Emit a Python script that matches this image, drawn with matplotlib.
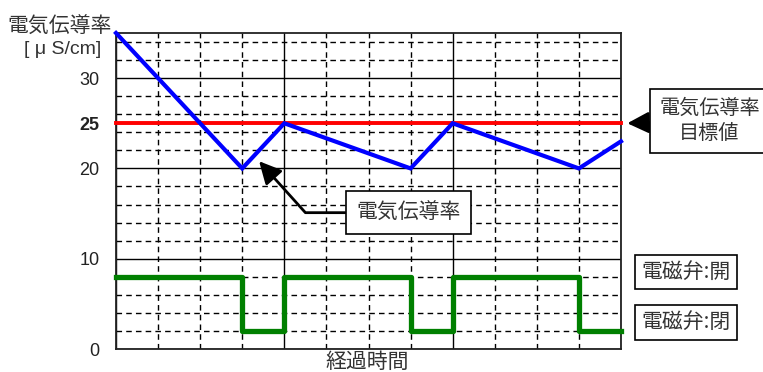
import matplotlib.pyplot as plt

plt.rcParams['font.family'] = ['Noto Sans CJK JP', 'DejaVu Sans']

# data
elapsed = [0, 3, 4, 7, 8, 11, 12]
conductivity = [35, 20, 25, 20, 25, 20, 23]
target_value = 25
valve_x = [0, 3, 4, 7, 8, 11, 12]
valve_level = [8, 2, 8, 2, 8, 2, 2]
y_ticks = [0, 10, 20, 25, 30]
y_minor = [2, 4, 6, 8, 12, 14, 16, 18, 22, 24, 26, 28, 32, 34]
x_major = [0, 4, 8, 12]
x_minor = [1, 2, 3, 5, 6, 7, 9, 10, 11]

fig = plt.figure(figsize=(7.63, 3.72), dpi=100)
ax = fig.add_axes([116 / 763, 23 / 372, 505 / 763, 316 / 372])

ax.set_xlim(0, 12)
ax.set_ylim(0, 35)

ax.set_xticks(x_major)
ax.set_xticks(x_minor, minor=True)
ax.set_yticks(y_ticks)
ax.set_yticks(y_minor, minor=True)
ax.set_xticklabels([])
ax.set_yticklabels([str(v) for v in y_ticks], family='Liberation Sans',
                   fontsize=13, color='#222222')
ax.get_yticklabels()[3].set_fontweight('bold')
ax.tick_params(which='both', length=0)
ax.tick_params(axis='y', pad=12)

ax.grid(which='major', color='black', lw=1.0, ls='-')
ax.grid(which='minor', color='black', lw=1.0, ls=(0, (4, 3)))
ax.set_axisbelow(True)
for s in ax.spines.values():
    s.set_color('#222222')
    s.set_linewidth(1.3)

ax.plot([0, 12], [target_value, target_value], color='#ff0000', lw=2.8, zorder=3,
        clip_on=False)
ax.plot(elapsed, conductivity, color='#0000ff', lw=3.0, zorder=4, clip_on=False,
        solid_joinstyle='miter')
ax.plot(valve_x, valve_level, color='#008000', lw=3.8, drawstyle='steps-post',
        zorder=4, clip_on=False)

txt = dict(fontsize=15, color='#333333', ha='center', va='center')
head = '-|>,head_length=0.9,head_width=0.45'

ax.annotate('電気伝導率', xy=(3.4, 20.8), xytext=(6.95, 15.1),
            bbox=dict(boxstyle='square,pad=0.5', fc='white', ec='black', lw=1.2),
            **txt,
            arrowprops=dict(arrowstyle=head, color='black', lw=2,
                            connectionstyle='angle,angleA=0,angleB=-48,rad=0',
                            shrinkA=0, shrinkB=0))

ax.annotate('電気伝導率\n目標値', xy=(12.15, 25), xytext=(14.1, 25.3),
            annotation_clip=False, linespacing=1.25,
            bbox=dict(boxstyle='square,pad=0.45', fc='white', ec='black', lw=1.2),
            fontsize=14.5, color='#333333', ha='center', va='center',
            arrowprops=dict(arrowstyle=head, color='black', lw=2,
                            shrinkA=0, shrinkB=0))

box = dict(boxstyle='square,pad=0.3', fc='white', ec='black', lw=1.2)
ax.text(13.55, 8.55, '電磁弁:開', bbox=box, **txt)
ax.text(13.55, 2.95, '電磁弁:閉', bbox=box, **txt)

fig.text(60 / 763, 1 - 27 / 372, '電気伝導率', fontsize=15, color='#333333',
         ha='center', va='center')
fig.text(101 / 763, 1 - 50 / 372, '[ μ S/cm]', fontsize=14, color='#333333',
         family='Liberation Sans', ha='right', va='center')
fig.text(367 / 763, 1 - 362 / 372, '経過時間', fontsize=15, color='#333333',
         ha='center', va='center')

fig.savefig('out.png', dpi=100)
